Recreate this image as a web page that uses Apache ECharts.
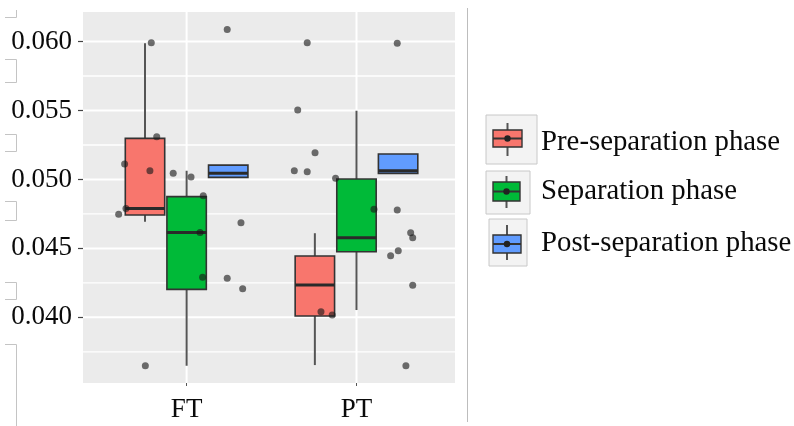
<!DOCTYPE html>
<html><head><meta charset="utf-8">
<script src="https://cdn.jsdelivr.net/npm/echarts@6/dist/echarts.min.js"></script>
<style>html,body{margin:0;padding:0;background:#fff}#c{width:794px;height:426px}</style>
</head><body><div id="c"></div>
<script>
// ---- data ----
const categories = ['FT', 'PT'];
const phases = ['Pre-separation phase', 'Separation phase', 'Post-separation phase'];
const yTicks = [0.040, 0.045, 0.050, 0.055, 0.060];
const yMinorGrid = [0.0375, 0.0425, 0.0475, 0.0525, 0.0575];
// box stats per category: [lowWhisker, Q1, median, Q3, highWhisker]
const preBox  = [[0.04693, 0.04742, 0.04790, 0.05298, 0.05987], [0.03654, 0.04010, 0.04234, 0.04445, 0.04610]];
const sepBox  = [[0.03649, 0.04203, 0.04616, 0.04875, 0.05063], [0.04053, 0.04476, 0.04577, 0.05003, 0.05498]];
const postBox = [[0.05015, 0.05015, 0.05044, 0.05104, 0.05104], [0.05044, 0.05044, 0.05063, 0.05184, 0.05184]];
// jittered observations [x (category 1/2 + jitter), value]
const prePoints = [[0.792, 0.05991], [0.824, 0.05310], [0.635, 0.05112], [0.784, 0.05063], [0.643, 0.04790], [0.600, 0.04747], [0.757, 0.03649],
  [1.710, 0.05991], [1.654, 0.05503], [1.756, 0.05194], [1.634, 0.05063], [1.710, 0.05056], [1.791, 0.04040], [1.857, 0.04017]];
const sepPoints = [[0.921, 0.05044], [1.026, 0.05017], [1.098, 0.04882], [1.079, 0.04616], [1.094, 0.04290],
  [1.877, 0.05008], [2.103, 0.04783]];
const postPoints = [[1.239, 0.06088], [1.320, 0.04686], [1.239, 0.04283], [1.330, 0.04207],
  [2.240, 0.05987], [2.240, 0.04778], [2.319, 0.04614], [2.331, 0.04577], [2.246, 0.04483], [2.201, 0.04447], [2.331, 0.04232], [2.291, 0.03649]];

// ---- layout / style ----
const X_MIN = 0.39, X_MAX = 2.58, Y_MIN = 0.03524, Y_MAX = 0.06214;
const DODGE = [-0.245, 0, 0.245];
const BOX_W = 0.232;
const FILLS = ['#F8766D', '#00BA38', '#619CFF'];
const SERIF = '"Liberation Serif", "Times New Roman", serif';

const boxes = [preBox, sepBox, postBox];
const points = [prePoints, sepPoints, postPoints];

function boxRender(params, api) {
  const x = api.value(0);
  const lo = api.coord([x, api.value(1)]);
  const q1 = api.coord([x, api.value(2)]);
  const md = api.coord([x, api.value(3)]);
  const q3 = api.coord([x, api.value(4)]);
  const hi = api.coord([x, api.value(5)]);
  const hw = api.size([BOX_W, 0])[0] / 2;
  const fill = FILLS[params.seriesIndex - 2];
  return {
    type: 'group',
    children: [
      {type: 'line', shape: {x1: lo[0], y1: lo[1], x2: q1[0], y2: q1[1]}, style: {stroke: '#555', lineWidth: 2}},
      {type: 'line', shape: {x1: q3[0], y1: q3[1], x2: hi[0], y2: hi[1]}, style: {stroke: '#555', lineWidth: 2}},
      {type: 'rect', shape: {x: q1[0] - hw, y: q3[1], width: 2 * hw, height: q1[1] - q3[1]}, style: {fill: fill, stroke: '#333', lineWidth: 1.6}},
      {type: 'line', shape: {x1: md[0] - hw, y1: md[1], x2: md[0] + hw, y2: md[1]}, style: {stroke: '#2a2a2a', lineWidth: 3}}
    ]
  };
}

const series = [];
// horizontal white grid lines
series.push({
  type: 'custom', silent: true, z: 1,
  data: yTicks.map(v => [v, 2]).concat(yMinorGrid.map(v => [v, 1.4])),
  renderItem: function (params, api) {
    const v = api.value(0);
    const a = api.coord([X_MIN, v]), b = api.coord([X_MAX, v]);
    return {type: 'line', shape: {x1: a[0], y1: a[1], x2: b[0], y2: b[1]}, style: {stroke: '#ffffff', lineWidth: api.value(1)}};
  },
  encode: {x: -1, y: 0}
});
// vertical white grid lines at categories
series.push({
  type: 'custom', silent: true, z: 1,
  data: categories.map((c, i) => [i + 1]),
  renderItem: function (params, api) {
    const v = api.value(0);
    const a = api.coord([v, Y_MIN]), b = api.coord([v, Y_MAX]);
    return {type: 'line', shape: {x1: a[0], y1: a[1], x2: b[0], y2: b[1]}, style: {stroke: '#ffffff', lineWidth: 2}};
  },
  encode: {x: 0, y: -1}
});
boxes.forEach((b, p) => {
  series.push({
    name: phases[p], type: 'custom', z: 3, silent: true,
    data: b.map((s, ci) => [ci + 1 + DODGE[p]].concat(s)),
    renderItem: boxRender,
    encode: {x: 0, y: [1, 2, 3, 4, 5]}
  });
});
points.forEach((pts, p) => {
  series.push({
    name: phases[p] + ' obs', type: 'scatter', z: 5, silent: true,
    data: pts, symbolSize: 7,
    itemStyle: {color: 'rgba(25,25,25,0.78)'}
  });
});

// legend + decorations (graphic)
const graphic = [];
const keys = [
  {kx: 486, ky: 115, kw: 51, kh: 49, bx: 493, by: 130, bw: 29, bh: 17, wy1: 123, wy2: 156, ty: 142},
  {kx: 486, ky: 171, kw: 44, kh: 43, bx: 493, by: 182, bw: 27, bh: 19, wy1: 176, wy2: 208, ty: 191},
  {kx: 489, ky: 219, kw: 38, kh: 47, bx: 493, by: 235, bw: 28, bh: 18, wy1: 225, wy2: 260, ty: 243}
];
keys.forEach((k, i) => {
  const cx = k.bx + k.bw / 2, cy = k.by + k.bh / 2;
  graphic.push({type: 'rect', shape: {x: k.kx, y: k.ky, width: k.kw, height: k.kh}, style: {fill: '#f3f3f3', stroke: '#c8c8c8', lineWidth: 1}});
  graphic.push({type: 'line', shape: {x1: cx, y1: k.wy1, x2: cx, y2: k.wy2}, style: {stroke: '#555', lineWidth: 2}});
  graphic.push({type: 'rect', shape: {x: k.bx, y: k.by, width: k.bw, height: k.bh}, style: {fill: FILLS[i], stroke: '#333', lineWidth: 1.4}});
  graphic.push({type: 'line', shape: {x1: k.bx, y1: cy, x2: k.bx + k.bw, y2: cy}, style: {stroke: '#333', lineWidth: 2}});
  graphic.push({type: 'circle', shape: {cx: cx, cy: cy, r: 3.2}, style: {fill: '#222'}});
  graphic.push({type: 'text', x: 541, y: k.ty, style: {text: phases[i], font: '28.8px ' + SERIF, fill: '#0a0a0a', verticalAlign: 'middle', textAlign: 'left'}});
});
// separator line
graphic.push({type: 'line', shape: {x1: 467.5, y1: 8, x2: 467.5, y2: 422}, style: {stroke: '#bdbdbd', lineWidth: 1}});
// left margin artefacts
const br = [[59, 82], [134, 151], [201, 220], [282, 299]];
graphic.push({type: 'polyline', shape: {points: [[16.5, 10], [16.5, 17.5], [5, 17.5]]}, style: {stroke: '#c4c4c4', lineWidth: 1, fill: null}});
br.forEach(b => graphic.push({type: 'polyline', shape: {points: [[5, b[0] + 0.5], [16.5, b[0] + 0.5], [16.5, b[1] + 0.5], [5, b[1] + 0.5]]}, style: {stroke: '#c4c4c4', lineWidth: 1, fill: null}}));
graphic.push({type: 'polyline', shape: {points: [[5, 344.5], [16.5, 344.5], [16.5, 426]]}, style: {stroke: '#c4c4c4', lineWidth: 1, fill: null}});

const option = {
  animation: false,
  backgroundColor: '#ffffff',
  grid: {left: 83, top: 12, width: 372, height: 371, show: true, backgroundColor: '#EBEBEB', borderWidth: 0},
  xAxis: {
    type: 'value', min: X_MIN, max: X_MAX,
    axisLine: {show: false}, splitLine: {show: false},
    axisTick: {show: true, customValues: [1, 2], length: 3, lineStyle: {color: '#555', width: 1}},
    axisLabel: {customValues: [1, 2], formatter: v => categories[Math.round(v) - 1], margin: 13,
      fontFamily: SERIF, fontSize: 27, color: '#0a0a0a'}
  },
  yAxis: {
    type: 'value', min: Y_MIN, max: Y_MAX,
    axisLine: {show: false}, splitLine: {show: false},
    axisTick: {show: true, customValues: yTicks, length: 5, lineStyle: {color: '#444', width: 1.2}},
    axisLabel: {customValues: yTicks, formatter: v => v.toFixed(3), margin: 11,
      fontFamily: SERIF, fontSize: 27, color: '#0a0a0a'}
  },
  graphic: graphic,
  series: series
};
const chart = echarts.init(document.getElementById('c'), null, {renderer: 'canvas'});
chart.setOption(option);
</script></body></html>
